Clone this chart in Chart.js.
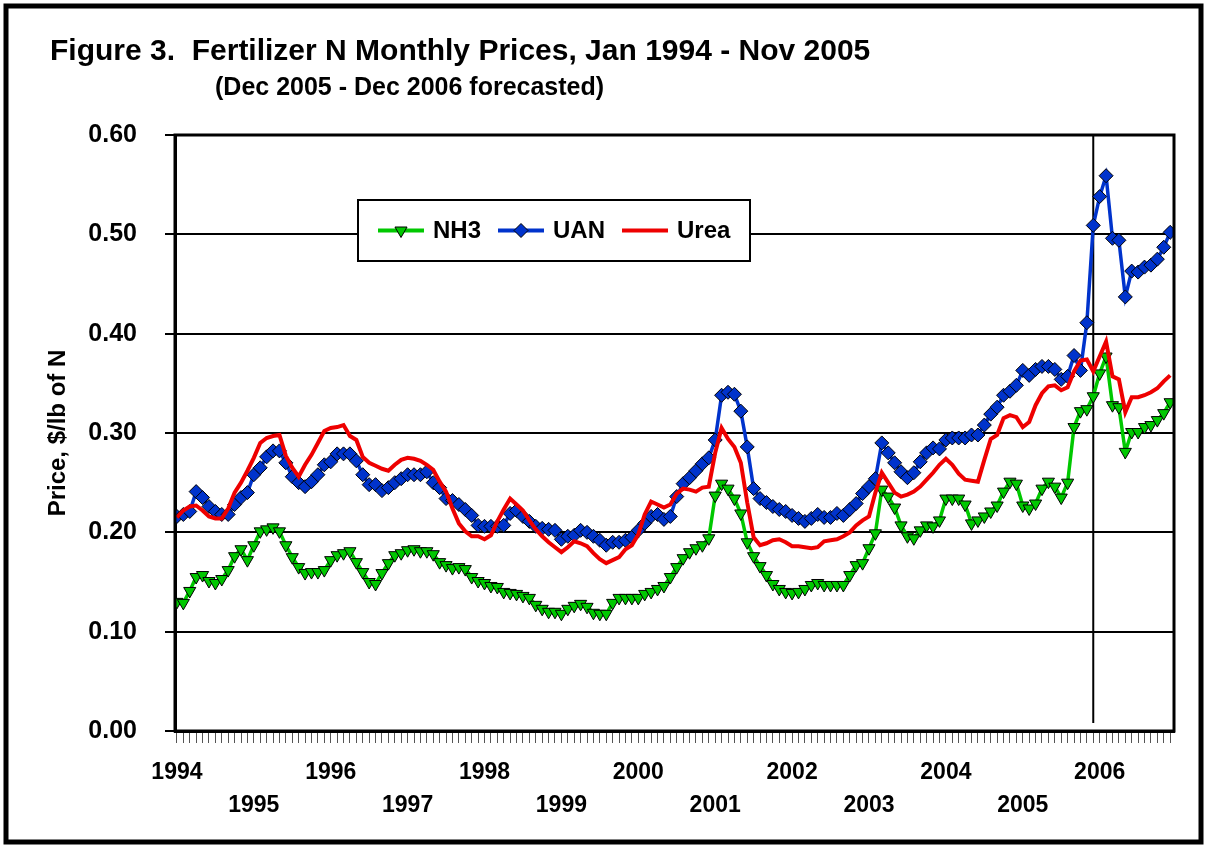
<!DOCTYPE html>
<html>
<head>
<meta charset="utf-8">
<script src="https://cdn.jsdelivr.net/npm/chart.js@4.4.1/dist/chart.umd.min.js"></script>
<style>
  html, body { margin: 0; padding: 0; background: #ffffff; }
  canvas { display: block; }
</style>
</head>
<body>
<canvas id="c" width="1207" height="848"></canvas>
<script>
// ---- data ----
const years = [1994, 1995, 1996, 1997, 1998, 1999, 2000, 2001, 2002, 2003, 2004, 2005, 2006];
const monthNames = ['Jan','Feb','Mar','Apr','May','Jun','Jul','Aug','Sep','Oct','Nov','Dec'];
const months = [];
years.forEach(y => monthNames.forEach(m => months.push(m + ' ' + y)));

const nh3 = [
  .130,.129,.141,.155,.157,.151,.149,.153,.162,.176,.183,.172,
  .187,.201,.203,.205,.201,.187,.175,.165,.159,.160,.160,.162,
  .172,.177,.179,.181,.170,.160,.150,.148,.159,.169,.177,.179,
  .182,.183,.181,.181,.178,.170,.167,.164,.165,.163,.155,.151,
  .149,.146,.145,.140,.139,.138,.136,.134,.127,.123,.120,.120,
  .118,.123,.126,.128,.125,.119,.118,.118,.129,.134,.134,.134,
  .134,.138,.140,.143,.146,.155,.165,.174,.180,.184,.187,.194,
  .237,.249,.244,.234,.219,.190,.176,.166,.157,.148,.143,.140,
  .139,.140,.143,.147,.149,.147,.147,.147,.147,.157,.167,.169,
  .184,.199,.243,.236,.225,.207,.196,.194,.202,.207,.206,.212,
  .234,.234,.234,.228,.209,.212,.216,.221,.227,.241,.251,.249,
  .227,.224,.229,.244,.251,.246,.235,.250,.306,.322,.324,.337,
  .360,.377,.328,.326,.281,.301,.301,.306,.308,.313,.320,.331
];
const uan = [
  .216,.218,.221,.241,.235,.226,.221,.218,.218,.228,.235,.240,
  .258,.265,.276,.282,.282,.270,.256,.250,.246,.251,.258,.268,
  .271,.279,.279,.279,.272,.258,.248,.248,.242,.245,.250,.254,
  .258,.258,.258,.261,.250,.245,.234,.232,.228,.223,.217,.207,
  .206,.206,.206,.207,.219,.222,.216,.211,.206,.204,.203,.202,
  .193,.196,.197,.202,.200,.196,.192,.187,.190,.190,.192,.195,
  .202,.209,.216,.218,.213,.216,.236,.249,.255,.262,.269,.275,
  .293,.338,.341,.339,.322,.286,.244,.234,.230,.226,.223,.221,
  .217,.214,.211,.214,.218,.215,.215,.219,.217,.223,.229,.239,
  .246,.254,.290,.280,.270,.261,.255,.260,.271,.280,.285,.284,
  .293,.295,.295,.295,.298,.298,.308,.319,.326,.338,.342,.348,
  .363,.358,.364,.367,.367,.364,.354,.357,.378,.363,.411,.509,
  .538,.559,.496,.494,.437,.463,.462,.467,.469,.475,.487,.502
];
const urea = [
  .215,.222,.226,.227,.222,.216,.214,.214,.224,.240,.250,.262,
  .275,.290,.295,.297,.298,.277,.265,.256,.268,.278,.290,.302,
  .305,.306,.308,.297,.293,.276,.270,.267,.264,.262,.268,.273,
  .275,.274,.272,.268,.263,.251,.241,.224,.209,.201,.196,.196,
  .193,.197,.211,.223,.234,.228,.222,.212,.203,.196,.190,.185,
  .180,.185,.191,.189,.186,.179,.173,.169,.172,.175,.183,.187,
  .198,.218,.231,.228,.225,.228,.239,.244,.243,.241,.245,.246,
  .280,.305,.294,.286,.270,.230,.195,.187,.189,.192,.193,.190,
  .186,.186,.185,.184,.185,.191,.192,.193,.196,.200,.207,.212,
  .216,.240,.260,.250,.240,.236,.238,.241,.246,.253,.260,.268,
  .274,.268,.259,.253,.252,.251,.273,.294,.298,.315,.318,.316,
  .306,.311,.328,.340,.347,.348,.343,.346,.362,.373,.374,.362,
  .377,.392,.357,.354,.321,.336,.336,.338,.341,.345,.352,.358
];
const yTicks = [0, 0.1, 0.2, 0.3, 0.4, 0.5, 0.6];
const forecastMonth = 'Dec 2005';
const seriesNames = ['NH3', 'UAN', 'Urea'];

const FONT = '"Liberation Sans", Arial, sans-serif';
const GREEN = '#00C800', BLUE = '#0033CC', RED = '#EE0000';

const toXY = arr => arr.map((v, i) => ({ x: i, y: v }));

const frameAndText = {
  id: 'frameAndText',
  beforeDatasetsDraw(chart) {
    const { ctx, chartArea } = chart;
    const xs = chart.scales.x;
    const fx = xs.getPixelForValue(months.indexOf(forecastMonth));
    ctx.save();
    ctx.strokeStyle = '#000';
    ctx.lineWidth = 2;
    ctx.beginPath();
    ctx.moveTo(fx, chartArea.top);
    ctx.lineTo(fx, chartArea.bottom - 8);
    ctx.stroke();
    ctx.restore();
  },
  afterDraw(chart) {
    const { ctx, chartArea } = chart;
    ctx.save();
    // plot border
    ctx.strokeStyle = '#000';
    ctx.lineWidth = 3;
    ctx.strokeRect(chartArea.left, chartArea.top, chartArea.right - chartArea.left, chartArea.bottom - chartArea.top);
    // outer frame
    ctx.lineWidth = 5;
    ctx.strokeRect(6, 6, 1195, 836);
    // titles
    ctx.fillStyle = '#000';
    ctx.textBaseline = 'alphabetic';
    ctx.textAlign = 'left';
    ctx.font = 'bold 30px ' + FONT;
    ctx.fillText('Figure 3.  Fertilizer N Monthly Prices, Jan 1994 - Nov 2005', 50, 60);
    ctx.font = 'bold 25px ' + FONT;
    ctx.fillText('(Dec 2005 - Dec 2006 forecasted)', 215, 95);

    // legend
    const bx = 358, by = 200, bw = 392, bh = 61;
    ctx.fillStyle = '#fff';
    ctx.fillRect(bx, by, bw, bh);
    ctx.strokeStyle = '#000';
    ctx.lineWidth = 2;
    ctx.strokeRect(bx, by, bw, bh);
    const starts = [378, 498, 622];
    const cy = by + bh / 2;
    chart.data.datasets.forEach((ds, i) => {
      const x0 = starts[i];
      ctx.strokeStyle = ds.borderColor;
      ctx.lineWidth = 4;
      ctx.beginPath();
      ctx.moveTo(x0, cy);
      ctx.lineTo(x0 + 46, cy);
      ctx.stroke();
      if (ds.pointRadius > 0) {
        ctx.fillStyle = ds.pointBackgroundColor;
        ctx.strokeStyle = '#000';
        ctx.lineWidth = 1;
        Chart.helpers.drawPoint(ctx, {
          pointStyle: ds.pointStyle, radius: ds.pointRadius,
          rotation: ds.pointRotation || 0, borderWidth: 1
        }, x0 + 23, cy);
      }
      ctx.fillStyle = '#000';
      ctx.font = 'bold 24px ' + FONT;
      ctx.textBaseline = 'middle';
      ctx.fillText(ds.label, x0 + 55, cy + 1);
    });
    ctx.restore();
  }
};

new Chart(document.getElementById('c'), {
  type: 'line',
  data: {
    datasets: [
      { label: seriesNames[0], data: toXY(nh3), borderColor: GREEN, borderWidth: 3.5,
        pointStyle: 'triangle', pointRotation: 180, pointRadius: 7,
        pointBackgroundColor: GREEN, pointBorderColor: '#000', pointBorderWidth: 1,
        tension: 0, order: 3 },
      { label: seriesNames[1], data: toXY(uan), borderColor: BLUE, borderWidth: 3.5,
        pointStyle: 'rectRot', pointRadius: 7,
        pointBackgroundColor: BLUE, pointBorderColor: '#000', pointBorderWidth: 1,
        tension: 0, order: 2 },
      { label: seriesNames[2], data: toXY(urea), borderColor: RED, borderWidth: 4,
        pointRadius: 0, pointBackgroundColor: RED, tension: 0, order: 1 }
    ]
  },
  options: {
    responsive: false,
    animation: false,
    devicePixelRatio: 1,
    layout: { padding: { left: 0, right: 33, top: 135, bottom: 0 } },
    plugins: { legend: { display: false }, tooltip: { enabled: false }, title: { display: false } },
    scales: {
      x: {
        type: 'linear',
        min: -0.3,
        max: 155.6,
        afterBuildTicks: s => { s.ticks = months.map((m, i) => ({ value: i })); },
        afterFit: s => { s.height = 117; },
        ticks: {
          autoSkip: false, maxRotation: 0, minRotation: 0, padding: 13,
          color: '#000',
          font: { family: FONT, size: 23, weight: 'bold', lineHeight: 1.45 },
          callback: v => {
            if (v % 12 !== 0) return '';
            const yr = years[v / 12];
            return (yr % 2 === 0) ? [String(yr)] : ['', String(yr)];
          }
        },
        grid: { drawOnChartArea: false, drawTicks: true, tickLength: 12, color: '#555', lineWidth: 1 },
        border: { display: true, color: '#000', width: 3 }
      },
      y: {
        min: 0, max: 0.6,
        afterBuildTicks: s => { s.ticks = yTicks.map(v => ({ value: v })); },
        afterFit: s => { s.width = 175; },
        ticks: {
          padding: 28, color: '#000',
          font: { family: FONT, size: 25, weight: 'bold' },
          callback: v => Number(v).toFixed(2)
        },
        grid: { color: '#000', lineWidth: 2, drawTicks: true, tickLength: 10 },
        border: { display: true, color: '#000', width: 3 },
        title: {
          display: true, text: 'Price, $/lb of N', color: '#000',
          font: { family: FONT, size: 24, weight: 'bold', lineHeight: 1.2 },
          padding: { top: 44, bottom: 0 }
        }
      }
    }
  },
  plugins: [frameAndText]
});
</script>
</body>
</html>
